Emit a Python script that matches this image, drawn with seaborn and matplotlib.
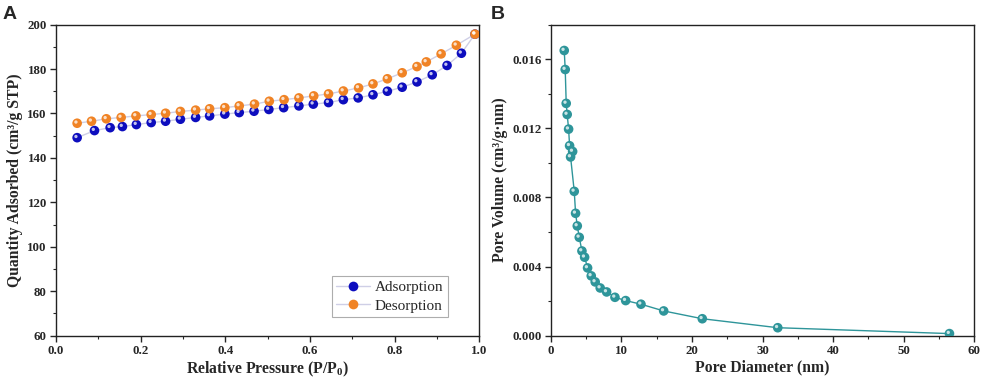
import numpy as np
import pandas as pd
import matplotlib
matplotlib.use("Agg")
import matplotlib.pyplot as plt
import matplotlib.ticker as mticker
from matplotlib.transforms import offset_copy
from matplotlib.lines import Line2D
import seaborn as sns

# --- Panel A: N2 isotherm ---
ads_p = [0.05, 0.091, 0.128, 0.157, 0.19, 0.225, 0.259, 0.294, 0.33, 0.363, 0.399,
         0.433, 0.468, 0.503, 0.538, 0.574, 0.608, 0.644, 0.679, 0.714, 0.749,
         0.783, 0.818, 0.853, 0.889, 0.924, 0.958, 0.99]
ads_q = [149.1, 152.3, 153.6, 154.1, 155.0, 155.9, 156.5, 157.4, 158.2, 158.9, 159.7,
         160.4, 161.0, 161.8, 162.6, 163.4, 164.2, 164.9, 166.2, 167.0, 168.4,
         170.0, 171.8, 174.2, 177.4, 181.6, 187.1, 195.7]
des_p = [0.05, 0.084, 0.119, 0.154, 0.189, 0.225, 0.259, 0.294, 0.33, 0.363, 0.399,
         0.433, 0.469, 0.504, 0.539, 0.574, 0.609, 0.644, 0.679, 0.715, 0.749,
         0.783, 0.818, 0.853, 0.875, 0.91, 0.946, 0.99]
des_q = [155.6, 156.5, 157.6, 158.2, 158.9, 159.5, 160.1, 160.9, 161.5, 162.1, 162.6,
         163.4, 164.2, 165.5, 166.2, 167.0, 167.9, 168.8, 170.1, 171.5, 173.3,
         175.6, 178.3, 181.1, 183.2, 186.8, 190.7, 195.7]

# --- Panel B: pore size distribution ---
pore_d = [1.89, 2.03, 2.17, 2.31, 2.51, 2.65, 3.08, 2.79, 3.31, 3.5, 3.74, 4.02, 4.4,
          4.78, 5.2, 5.72, 6.28, 6.99, 7.9, 9.08, 10.6, 12.77, 15.99, 21.46, 32.16, 56.5]
pore_v = [0.0165, 0.0154, 0.01344, 0.0128, 0.01195, 0.01099, 0.01066, 0.01034, 0.00835,
          0.00708, 0.00635, 0.00569, 0.0049, 0.00454, 0.00392, 0.00346, 0.00311, 0.00276,
          0.00253, 0.00222, 0.00203, 0.00182, 0.00143, 0.00098, 0.00046, 0.00012]

sns.set_style("ticks")
plt.rcParams["font.family"] = ["Liberation Serif", "DejaVu Serif"]
plt.rcParams["font.weight"] = "bold"
plt.rcParams["mathtext.fontset"] = "custom"
plt.rcParams["mathtext.rm"] = "Liberation Serif:bold"
plt.rcParams["mathtext.bf"] = "Liberation Serif:bold"
plt.rcParams["mathtext.it"] = "Liberation Serif:bold"

blue = "#0D0DBE"
orange = "#F08325"
teal = "#2E959A"
pale = "#CFCFE6"

fig = plt.figure(figsize=(9.82, 3.78), dpi=100)
axA = fig.add_axes([0.057, 0.112, 0.431, 0.823])
axB = fig.add_axes([0.561, 0.112, 0.431, 0.823])


def shiny(ax, x, y, color, size=48):
    # ball marker with a small highlight
    ax.scatter(x, y, s=size, color=color, edgecolor="none", zorder=3)
    tr = offset_copy(ax.transData, fig=fig, x=-1.2, y=1.2, units="dots")
    ax.scatter(x, y, s=size * 0.12, color="white", alpha=0.75, edgecolor="none",
               transform=tr, zorder=4)


dfA = pd.DataFrame({"p": ads_p + des_p, "q": ads_q + des_q,
                    "branch": ["Adsorption"] * len(ads_p) + ["Desorption"] * len(des_p)})
sns.lineplot(data=dfA, x="p", y="q", units="branch", estimator=None, sort=False,
             color=pale, linewidth=1.0, ax=axA, legend=False, zorder=2)
shiny(axA, ads_p, ads_q, blue)
shiny(axA, des_p, des_q, orange)

axA.set_xlim(0, 1.0)
axA.set_ylim(60, 200)
axA.xaxis.set_major_locator(mticker.MultipleLocator(0.2))
axA.xaxis.set_minor_locator(mticker.MultipleLocator(0.1))
axA.yaxis.set_major_locator(mticker.MultipleLocator(20))
axA.yaxis.set_minor_locator(mticker.MultipleLocator(10))
axA.xaxis.set_major_formatter(mticker.FormatStrFormatter("%.1f"))
axA.set_xlabel(r"Relative Pressure (P/P$_0$)", fontsize=11.3, fontweight="bold", labelpad=2)
axA.set_ylabel("Quantity Adsorbed (cm³/g STP)", fontsize=11.3, fontweight="bold", labelpad=3)

handles = [Line2D([], [], color=pale, marker="o", markersize=7, markerfacecolor=c,
                  markeredgecolor="none", linewidth=1.0) for c in (blue, orange)]
leg = axA.legend(handles, ["Adsorption", "Desorption"], loc="lower right",
                 bbox_to_anchor=(0.944, 0.035), frameon=True, fancybox=False,
                 prop={"family": "Liberation Serif", "weight": "normal", "size": 11},
                 handlelength=2.2, handletextpad=0.3, borderpad=0.3, labelspacing=0.3)
leg.get_frame().set_edgecolor("#999999")
leg.get_frame().set_linewidth(0.8)

dfB = pd.DataFrame({"d": pore_d, "v": pore_v})
sns.lineplot(data=dfB, x="d", y="v", sort=False, color=teal, linewidth=1.0,
             ax=axB, zorder=2)
shiny(axB, pore_d, pore_v, teal)

axB.set_xlim(0, 60)
axB.set_ylim(0, 0.018)
axB.xaxis.set_major_locator(mticker.MultipleLocator(10))
axB.xaxis.set_minor_locator(mticker.MultipleLocator(5))
axB.yaxis.set_major_locator(mticker.MultipleLocator(0.004))
axB.yaxis.set_minor_locator(mticker.MultipleLocator(0.002))
axB.yaxis.set_major_formatter(mticker.FormatStrFormatter("%.3f"))
axB.set_xlabel("Pore Diameter (nm)", fontsize=11.3, fontweight="bold", labelpad=2)
axB.set_ylabel("Pore Volume (cm³/g·nm)", fontsize=11.3, fontweight="bold", labelpad=3)

for ax in (axA, axB):
    for s in ax.spines.values():
        s.set_linewidth(1.0)
        s.set_color("#222222")
    ax.tick_params(which="major", direction="out", length=4.5, width=1.0,
                   labelsize=9.3, pad=2, top=False, right=False)
    ax.tick_params(which="minor", direction="out", length=2.5, width=0.8,
                   top=False, right=False)
    for lab in ax.get_xticklabels() + ax.get_yticklabels():
        lab.set_fontweight("bold")

fig.text(0.003, 0.985, "A", fontsize=14, fontweight="bold", family="Liberation Sans",
         va="top", ha="left")
fig.text(0.5, 0.985, "B", fontsize=14, fontweight="bold", family="Liberation Sans",
         va="top", ha="left")

fig.savefig("out.png", dpi=100)
